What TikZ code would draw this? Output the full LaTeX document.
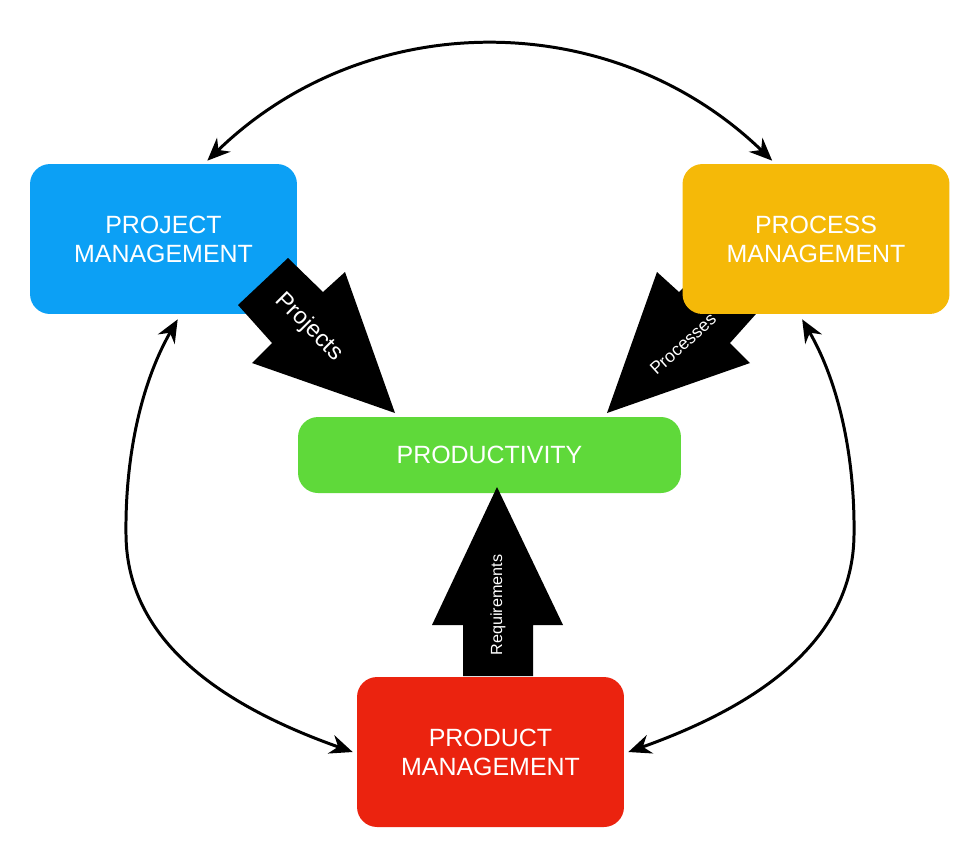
\documentclass[tikz,border=0pt]{standalone}
\usepackage{fontspec}
\setmainfont{Liberation Sans}
\usetikzlibrary{arrows.meta,calc}
\definecolor{pmblue}{RGB}{12,160,245}
\definecolor{procorange}{RGB}{245,185,8}
\definecolor{prodgreen}{RGB}{95,217,58}
\definecolor{prodred}{RGB}{235,35,15}
\begin{document}
\begin{tikzpicture}[x=0.02cm,y=-0.02cm,
  box/.style={draw=none, rounded corners=0.4cm, text=white, align=center,
    font=\fontsize{14.2}{16.6}\selectfont, minimum width=5.34cm, minimum height=3cm, inner sep=0pt},
  link/.style={line width=1.7pt, {Stealth[length=13pt,width=11pt]}-{Stealth[length=13pt,width=11pt]}},
  blockarrow/.style={fill=black, draw=none},
  arrowlabel/.style={text=white, inner sep=0pt}]
\useasboundingbox (0,0) rectangle (980,843);

% boxes (orange drawn after its arrow)
\node[box, fill=pmblue] (pm) at (163.5,239) {PROJECT\\MANAGEMENT};
\node[box, fill=prodgreen, minimum width=7.66cm, minimum height=1.52cm] (prod) at (489.5,455) {PRODUCTIVITY};
\node[box, fill=prodred] (pd) at (490.5,752) {PRODUCT\\MANAGEMENT};

% Processes block arrow (under the orange box)
\fill[blockarrow] (714,258) -- (679,292) -- (657,272) -- (607,413) -- (750,363) -- (730,343) -- (764,305) -- cycle;
\node[box, fill=procorange] (prm) at (816,239) {PROCESS\\MANAGEMENT};
\node[arrowlabel, rotate=42, font=\fontsize{10}{12}\selectfont] (lproc) at (683,344) {Processes};

% Projects block arrow (over the blue box)
\fill[blockarrow] (288,258) -- (323,292) -- (345,272) -- (395,413) -- (252,363) -- (272,343) -- (238,305) -- cycle;
\node[arrowlabel, rotate=-45, font=\fontsize{13.4}{15}\selectfont] (lproj) at (309,327) {Projects};

% Requirements block arrow
\fill[blockarrow] (497,487) -- (563,625) -- (533,625) -- (533,676) -- (463,676) -- (463,625) -- (432,625) -- cycle;
\node[arrowlabel, rotate=90, font=\fontsize{9.2}{11}\selectfont] (lreq) at (498,605) {Requirements};

% curved connectors
\draw[link] ($(pm.north east)+(-90,-3)$) .. controls (367,6) and (612,6) .. ($(prm.north west)+(90,-3)$);
\draw[link] ($(pm.south west)+(148,5)$) .. controls (140,385) and (125,460) .. (126,535)
  .. controls (127,640) and (220,705) .. ($(pd.west)+(-4,0)$);
\draw[link] ($(prm.south west)+(120,5)$) .. controls (840,385) and (855,460) .. (854,535)
  .. controls (853,640) and (760,705) .. ($(pd.east)+(4,0)$);
\end{tikzpicture}
\end{document}
